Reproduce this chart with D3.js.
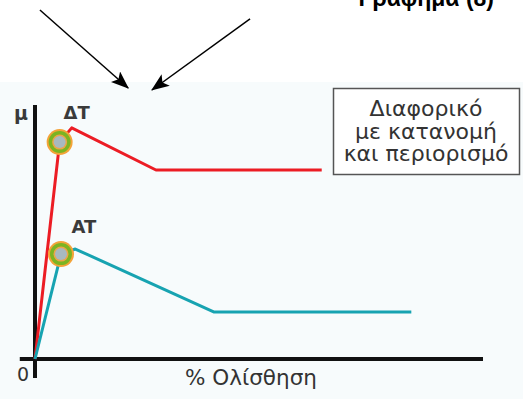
<!DOCTYPE html>
<html lang="el">
<head>
<meta charset="utf-8">
<style>
html, body {
    margin: 0;
    padding: 0;
    background: #fff;
}
svg { display: block; }
</style>
</head>
<body>
<div id="stage"></div>

<script src="https://cdn.jsdelivr.net/npm/d3@7/dist/d3.min.js"></script>
<script>

// % slip vs friction coefficient, two curves
var slipDT = [0, 5.5, 8.2, 27, 64]
var muDT   = [0, 0.854, 0.91, 0.744, 0.744]
var slipAT = [0, 5.8, 9, 40, 84]
var muAT   = [0, 0.413, 0.433, 0.185, 0.185]

// marker points (circles) and their labels
var markers = [
    {name: "ΔT", slip: 5.5, mu: 0.854},
    {name: "AT", slip: 5.8, mu: 0.413}
]

var legendLines = ["Διαφορικό", "με κατανομή", "και περιορισμό"]
var xLabel = "% Ολίσθηση"
var yLabel = "μ"
var title = "Γράφημα (8)"

// pointer arrows above the chart (chart units)
var arrows = [
    {x1: 1.1, y1: 1.374, x2: 20.8, y2: 1.067},
    {x1: 48, y1: 1.339, x2: 26.1, y2: 1.059}
]

var W = 523, H = 399

var svg = d3.select("#stage").append("svg")
    .attr("width", W)
    .attr("height", H)

var x = d3.scaleLinear().domain([0, 100]).range([35, 483])
var y = d3.scaleLinear().domain([0, 1]).range([359, 105])

// light panel behind the chart
svg.append("rect")
    .attr("x", 0).attr("y", 82)
    .attr("width", W).attr("height", H - 82)
    .attr("fill", "#f7fbfc")

// title, cut off at the top like the source
svg.append("text")
    .attr("x", 494).attr("y", 6)
    .attr("text-anchor", "end")
    .attr("font-family", "Liberation Sans, Arial, sans-serif")
    .attr("font-weight", "bold")
    .attr("font-size", 23)
    .attr("fill", "#000")
    .text(title)

// arrows
svg.append("defs").append("marker")
    .attr("id", "head")
    .attr("markerUnits", "userSpaceOnUse")
    .attr("viewBox", "0 0 18 14")
    .attr("refX", 17).attr("refY", 7)
    .attr("markerWidth", 18).attr("markerHeight", 14)
    .attr("orient", "auto")
    .append("path")
    .attr("d", "M0,0 L18,7 L0,14 L4,7 Z")
    .attr("fill", "#000")

svg.selectAll(".arrow")
    .data(arrows)
    .enter()
    .append("line")
    .attr("class", "arrow")
    .attr("x1", function(d){ return x(d.x1) })
    .attr("y1", function(d){ return y(d.y1) })
    .attr("x2", function(d){ return x(d.x2) })
    .attr("y2", function(d){ return y(d.y2) })
    .attr("stroke", "#000")
    .attr("stroke-width", 1.5)
    .attr("marker-end", "url(#head)")

// axes
svg.append("line")
    .attr("x1", x(-3.4)).attr("x2", x(100))
    .attr("y1", y(0)).attr("y2", y(0))
    .attr("stroke", "#111").attr("stroke-width", 4)

svg.append("line")
    .attr("x1", x(0)).attr("x2", x(0))
    .attr("y1", y(-0.075)).attr("y2", y(1))
    .attr("stroke", "#111").attr("stroke-width", 4)

var line = d3.line()
    .x(function(d){ return x(d[0]) })
    .y(function(d){ return y(d[1]) })

svg.append("path")
    .datum(d3.zip(slipDT, muDT))
    .attr("d", line)
    .attr("fill", "none")
    .attr("stroke", "#ec1c24")
    .attr("stroke-width", 3)
    .attr("stroke-linejoin", "round")

svg.append("path")
    .datum(d3.zip(slipAT, muAT))
    .attr("d", line)
    .attr("fill", "none")
    .attr("stroke", "#17a3b1")
    .attr("stroke-width", 3)
    .attr("stroke-linejoin", "round")

// circle markers
var rings = [
    {r: 13, color: "#f4a338"},
    {r: 11, color: "#7bb422"},
    {r: 7.5, color: "#eca54a"},
    {r: 6, color: "#a8b9c0"}
]

var mk = svg.selectAll(".mk")
    .data(markers)
    .enter()
    .append("g")
    .attr("class", "mk")
    .attr("transform", function(d){ return "translate(" + x(d.slip) + "," + y(d.mu) + ")" })

mk.selectAll("circle")
    .data(rings)
    .enter()
    .append("circle")
    .attr("r", function(d){ return d.r })
    .attr("fill", function(d){ return d.color })

mk.append("text")
    .attr("x", function(d, i){ return i == 0 ? 17 : 23 })
    .attr("y", function(d, i){ return i == 0 ? -23 : -21 })
    .attr("text-anchor", "middle")
    .attr("font-family", "DejaVu Sans, sans-serif")
    .attr("font-weight", "bold")
    .attr("font-size", 18)
    .attr("fill", "#3a3a3a")
    .text(function(d){ return d.name })

// axis labels
svg.append("text")
    .attr("x", 21).attr("y", 120)
    .attr("text-anchor", "middle")
    .attr("font-family", "DejaVu Sans, sans-serif")
    .attr("font-weight", "bold")
    .attr("font-size", 19)
    .attr("fill", "#3a3a3a")
    .text(yLabel)

svg.append("text")
    .attr("x", 23).attr("y", 381)
    .attr("text-anchor", "middle")
    .attr("font-family", "DejaVu Sans, sans-serif")
    .attr("font-size", 19)
    .attr("fill", "#333")
    .text("0")

svg.append("text")
    .attr("x", 251).attr("y", 385)
    .attr("text-anchor", "middle")
    .attr("font-family", "DejaVu Sans, sans-serif")
    .attr("font-size", 21.5)
    .attr("fill", "#333")
    .text(xLabel)

// legend box
var box = svg.append("g")

box.append("rect")
    .attr("x", 333.5).attr("y", 88.5)
    .attr("width", 186).attr("height", 86)
    .attr("fill", "#fff")
    .attr("stroke", "#555")
    .attr("stroke-width", 1.5)

box.selectAll("text")
    .data(legendLines)
    .enter()
    .append("text")
    .attr("x", 426)
    .attr("y", function(d, i){ return 116 + i * 22.5 })
    .attr("text-anchor", "middle")
    .attr("font-family", "DejaVu Sans, sans-serif")
    .attr("font-size", 22)
    .attr("fill", "#333")
    .text(function(d){ return d })

</script>
</body>
</html>
